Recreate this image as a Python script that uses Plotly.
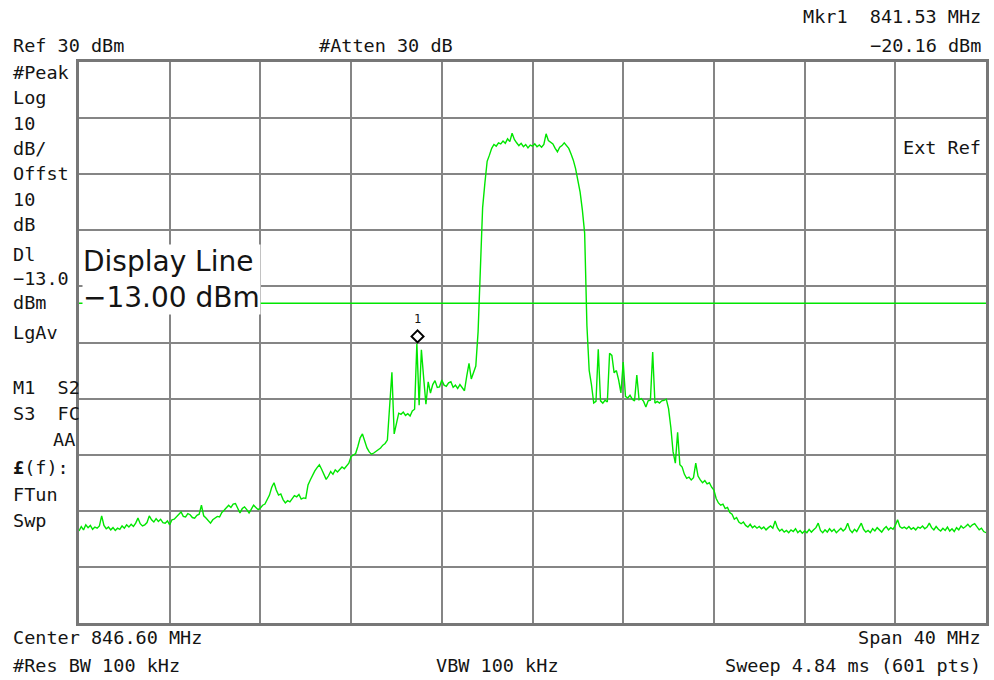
import numpy as np
import plotly.graph_objects as go

CENTER_MHZ = 846.60
SPAN_MHZ = 40.0
STEP_MHZ = 0.1
REF_DBM = 30
DB_PER_DIV = 10
DISPLAY_LINE_DBM = -13.0
MKR_FREQ_MHZ = 841.53
MKR_LEVEL_DBM = -20.16

# trace levels (dBm), one value every 0.1 MHz from 826.6 MHz
LEVEL_LOW_SIDE = [
    -53.6, -52.8, -53.4, -52.5, -53.0, -52.6, -53.3, -52.9, -53.1, -52.7,
    -50.9, -52.6, -53.2, -52.9, -53.4, -53.0, -53.5, -53.1, -53.3, -52.7,
    -53.1, -52.5, -52.9, -52.4, -52.8, -52.2, -51.3, -52.3, -52.7, -52.5,
    -52.1, -50.9, -51.6, -52.0, -51.4, -51.9, -51.5, -52.1, -52.2, -51.8,
    -52.5, -51.6, -51.5, -51.1, -50.6, -50.2, -51.0, -51.1, -50.5, -50.7,
    -51.2, -51.3, -50.8, -50.6, -49.0, -50.9, -51.3, -51.8, -52.2, -51.6,
    -51.3, -51.0, -51.1, -50.3, -49.9, -49.5, -49.0, -49.4, -48.8, -48.7,
    -49.5, -50.4, -49.6, -49.3, -49.8, -50.4, -49.7, -49.0, -49.4, -49.8,
    -49.5, -49.0, -48.8, -48.1, -47.2, -45.8, -45.0, -46.3, -47.2, -47.0,
    -48.0, -48.6, -48.2, -48.4, -47.9, -47.3, -47.5, -47.1, -47.9, -47.7,
    -47.8, -45.4, -44.5, -43.6, -42.9, -42.3, -41.8, -42.6, -43.5, -44.4,
    -43.8, -43.0, -43.5, -42.7, -43.1, -42.6, -42.2, -42.5, -41.9, -41.5,
    -40.3, -40.0, -39.8, -38.5, -37.0, -36.3, -37.6, -38.8, -39.5, -39.9,
    -39.7, -39.4, -39.0, -38.8, -38.3, -38.0, -37.4, -31.7, -25.3, -36.3,
    -34.5, -32.6, -32.8, -32.4, -33.0, -32.7, -33.1, -32.2, -31.9, -20.2,
    -31.2, -21.3, -26.3, -31.0, -27.0, -29.0, -27.5, -26.8, -28.0, -27.9,
    -26.7, -27.6, -27.8, -27.2, -27.0, -28.0, -27.6, -28.2, -27.5, -28.0,
    -28.6, -26.0, -23.7, -26.5, -25.3, -24.2,
]
LEVEL_CARRIER = [
    -18.1, -5.5, 4.0, 8.4, 12.3, 13.4, 14.6, 15.3, 15.0, 15.6,
    15.4, 15.9, 15.5, 16.3, 15.8, 17.3, 16.2, 15.6, 15.1, 15.5,
    14.9, 15.3, 14.7, 15.2, 15.0, 15.4, 14.9, 15.2, 14.8, 15.3,
    17.2, 16.0, 15.7, 15.4, 14.6, 14.0, 14.8, 15.1, 15.6, 15.0,
    14.6, 13.6, 12.5, 11.0, 8.8, 6.8, 3.6, -0.5,
]
LEVEL_HIGH_SIDE = [
    -17.0, -25.0, -27.5, -30.8, -30.5, -21.2, -30.4, -30.8, -30.3, -30.6,
    -21.9, -22.3, -25.4, -25.0, -26.7, -29.0, -23.5, -29.6, -29.9, -29.4,
    -30.1, -30.4, -25.8, -30.2, -30.0, -30.5, -31.5, -30.4, -30.3, -21.7,
    -30.8, -30.5, -30.8, -30.4, -30.3, -30.1, -31.8, -35.1, -39.5, -41.5,
    -36.0, -41.8, -42.2, -43.5, -44.2, -44.0, -44.5, -44.1, -41.5, -43.8,
    -44.5, -45.0, -44.6, -45.2, -45.0, -45.8, -46.3, -47.8, -48.6, -49.0,
    -48.8, -49.6, -49.4, -50.3, -50.6, -51.5, -51.2, -52.0, -52.3, -52.0,
    -52.6, -52.9, -52.4, -53.0, -52.7, -53.1,
]
LEVEL_FLOOR = [
    -52.8, -53.2, -52.9, -53.4, -53.0, -52.7, -53.1, -51.8, -53.0, -53.6,
    -53.3, -53.8, -53.5, -53.9, -53.4, -53.7, -53.2, -53.9, -53.5, -54.0,
    -53.6, -53.9, -53.3, -53.8, -53.4, -53.0, -52.2, -53.5, -53.9, -53.4,
    -53.8, -53.2, -53.7, -53.3, -53.9, -53.5, -53.1, -53.6, -53.2, -52.2,
    -53.4, -53.9, -53.3, -53.7, -53.0, -52.2, -53.3, -53.8, -53.5, -53.9,
    -53.2, -53.6, -53.0, -53.5, -53.8, -53.2, -52.8, -53.4, -53.0, -53.3,
    -52.6, -51.6, -52.8, -53.1, -52.9, -53.2, -52.8, -53.3, -53.0, -53.4,
    -52.9, -53.1, -52.7, -53.2, -52.9, -52.2, -53.0, -53.4, -52.8, -53.3,
    -53.6, -53.1, -53.5, -52.9, -53.6, -53.2, -53.7, -53.0, -53.4, -52.7,
    -53.1, -52.8, -52.4, -52.9, -52.5, -52.3, -52.9, -53.4, -53.1, -53.7,
    -53.9,
]

# text on the instrument screen
TOP_LEFT = "Ref 30 dBm"
TOP_MID = "#Atten 30 dB"
MKR_READOUT_1 = "Mkr1\u00a0\u00a0841.53 MHz"
MKR_READOUT_2 = "\u221220.16 dBm"
EXT_REF = "Ext Ref"
SIDE_LABELS = [
    ("#Peak", 72), ("Log", 97), ("10", 123), ("dB/", 148), ("Offst", 174),
    ("10", 199), ("dB", 224), ("Dl", 255), ("\u221213.0", 278), ("dBm", 302),
    ("LgAv", 332), ("M1\u00a0\u00a0S2", 387), ("S3\u00a0\u00a0FC", 413),
    ("<b>£</b>(f):", 467), ("FTun", 494), ("Swp", 520),
]
BOTTOM_LEFT_1 = "Center 846.60 MHz"
BOTTOM_RIGHT_1 = "Span 40 MHz"
BOTTOM_LEFT_2 = "#Res BW 100 kHz"
BOTTOM_MID_2 = "VBW 100 kHz"
BOTTOM_RIGHT_2 = "Sweep 4.84 ms (601 pts)"

# ---------------- figure ----------------
levels = LEVEL_LOW_SIDE + LEVEL_CARRIER + LEVEL_HIGH_SIDE + LEVEL_FLOOR
f_start = CENTER_MHZ - SPAN_MHZ / 2
f_stop = CENTER_MHZ + SPAN_MHZ / 2
freqs = f_start + STEP_MHZ * np.arange(len(levels))

W, H = 994, 680
L, R, T, B = 79, 5, 62, 57
PW, PH = W - L - R, H - T - B


def px(x):
    return (x - L) / PW


def py(y):
    return (H - B - y) / PH


MONO = "DejaVu Sans Mono"
TXT = "#141414"
GREEN = "#00e600"

fig = go.Figure()
fig.add_trace(go.Scatter(x=freqs, y=levels, mode="lines",
                         line=dict(color=GREEN, width=1.4), hoverinfo="skip"))

fig.add_shape(type="line", xref="paper", yref="y", x0=0, x1=1,
              y0=DISPLAY_LINE_DBM, y1=DISPLAY_LINE_DBM,
              line=dict(color=GREEN, width=1.4))

# marker diamond
fig.add_shape(type="path", xref="x", yref="y", xsizemode="pixel", ysizemode="pixel",
              xanchor=MKR_FREQ_MHZ, yanchor=MKR_LEVEL_DBM,
              path="M 0 1 L 6 7 L 0 13 L -6 7 Z",
              line=dict(color="black", width=2), fillcolor="rgba(0,0,0,0)")

ann = []


def text(s, x, y, xa="left", size=18.5, family=MONO, **kw):
    ann.append(dict(text=s, x=px(x), y=py(y), xref="paper", yref="paper",
                    xanchor=xa, yanchor="middle", showarrow=False,
                    font=dict(family=family, size=size, color=TXT), **kw))


text(TOP_LEFT, 11, 46)
text(TOP_MID, 318, 46)
text(MKR_READOUT_1, 986, 17, xa="right")
text(MKR_READOUT_2, 986, 45, xa="right")
text(EXT_REF, 986, 147, xa="right")
for s, y in SIDE_LABELS:
    text(s, 11, y)
text("AA", 77, 439, xa="right")
text(BOTTOM_LEFT_1, 11, 637)
text(BOTTOM_RIGHT_1, 986, 637, xa="right")
text(BOTTOM_LEFT_2, 11, 665)
text(BOTTOM_MID_2, 499, 665, xa="center")
text(BOTTOM_RIGHT_2, 986, 665, xa="right")

# display line readout box
ann.append(dict(text="Display Line<br>\u221213.00 dBm", x=px(82), y=py(279),
                xref="paper", yref="paper", xanchor="left", yanchor="middle",
                align="left", showarrow=False, bgcolor="white", borderpad=0,
                font=dict(family="DejaVu Sans", size=28, color=TXT)))

# marker number
ann.append(dict(text="1", x=MKR_FREQ_MHZ, y=MKR_LEVEL_DBM, xref="x", yref="y",
                yshift=24, showarrow=False,
                font=dict(family=MONO, size=12, color=TXT)))

fig.update_layout(
    width=W, height=H, margin=dict(l=L, r=R, t=T, b=B),
    paper_bgcolor="white", plot_bgcolor="white", showlegend=False,
    annotations=ann,
    xaxis=dict(range=[f_start, f_stop], tick0=f_start, dtick=SPAN_MHZ / 10,
               showticklabels=False, ticks="", showgrid=True,
               gridcolor="#858585", gridwidth=2, zeroline=False,
               showline=True, mirror=True, linecolor="#777777", linewidth=3),
    yaxis=dict(range=[REF_DBM - 10 * DB_PER_DIV, REF_DBM], tick0=REF_DBM,
               dtick=DB_PER_DIV, showticklabels=False, ticks="", showgrid=True,
               gridcolor="#858585", gridwidth=2, zeroline=False,
               showline=True, mirror=True, linecolor="#777777", linewidth=3),
)

fig.write_html("out.html",
               config={"displayModeBar": False},
               post_script="document.body.style.margin='0px';"
                           "document.body.style.overflow='hidden';")
